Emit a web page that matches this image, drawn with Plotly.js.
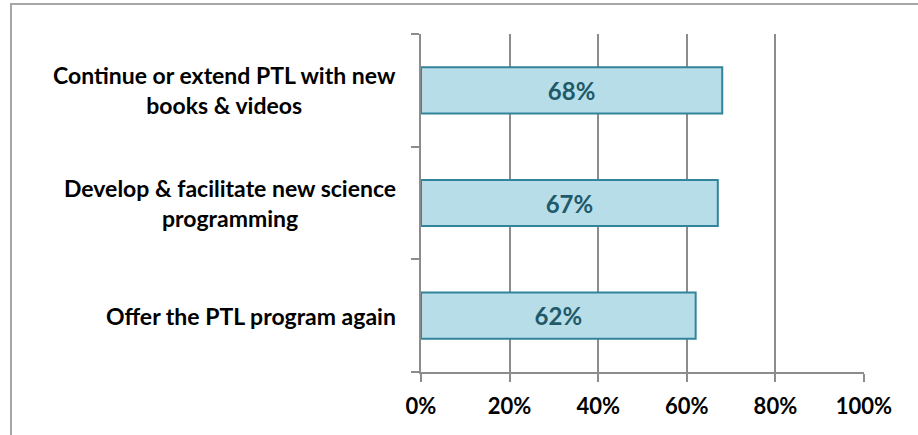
<!DOCTYPE html>
<html>
<head>
<meta charset="utf-8">
<script src="https://cdn.plot.ly/plotly-3.0.1.min.js"></script>
<style>
  html, body { margin: 0; padding: 0; background: #ffffff; }
  #wrap { position: relative; width: 918px; height: 435px; overflow: hidden; }
  #chart { position: absolute; left: 0; top: 0; width: 918px; height: 435px; }
  #frame { position: absolute; left: 10px; top: 3px; width: 1000px; height: 1000px;
           border-left: 2px solid #a6a6a6; border-top: 2px solid #a6a6a6; pointer-events: none; }
</style>
</head>
<body>
<div id="wrap">
  <div id="chart"></div>
  <div id="frame"></div>
</div>
<script>
const categories = [
  "Continue or extend PTL with new<br>books & videos",
  "Develop & facilitate new science<br>programming",
  "Offer the PTL program again"
];
const values = [68, 67, 62];
const xTickValues = [0, 20, 40, 60, 80, 100];
const xTickLabels = ["0%", "20%", "40%", "60%", "80%", "100%"];

const FONT = "Lato, 'Open Sans', 'Liberation Sans', sans-serif";
const gray = "#8c8c8c";

const trace = {
  type: "bar",
  orientation: "h",
  y: categories.map((c, i) => i),
  x: values,
  text: values.map(v => v + "%"),
  textposition: "inside",
  insidetextanchor: "middle",
  textangle: 0,
  textfont: { family: FONT, size: 24, color: "#215968", weight: "bold" },
  marker: { color: "#b7dee8", line: { color: "#31849b", width: 2 } },
  hoverinfo: "skip",
  cliponaxis: false
};

const annotations = categories.map((c, i) => ({
  xref: "paper", yref: "y",
  x: -0.053, y: i,
  xanchor: "right", yanchor: "middle",
  align: "center",
  text: c,
  showarrow: false,
  font: { family: FONT, size: 23, color: "#000000", weight: "bold" }
}));

const layout = {
  width: 918, height: 435,
  margin: { l: 421, r: 54, t: 34, b: 63, pad: 0 },
  paper_bgcolor: "#ffffff",
  plot_bgcolor: "#ffffff",
  showlegend: false,
  bargap: 0.59,
  font: { family: FONT, size: 22, color: "#000000" },
  xaxis: {
    range: [0, 100],
    tickmode: "array",
    tickvals: xTickValues,
    ticktext: xTickLabels,
    showgrid: true,
    gridcolor: gray,
    gridwidth: 2,
    zeroline: false,
    showline: true,
    linecolor: gray,
    linewidth: 2,
    ticks: "outside",
    ticklen: 8,
    tickwidth: 2,
    tickcolor: gray,
    ticklabelstandoff: 6,
    tickfont: { family: FONT, size: 22, color: "#000000", weight: "bold" },
    fixedrange: true
  },
  yaxis: {
    type: "linear",
    range: [2.5, -0.5],
    tickmode: "array",
    tickvals: [-0.5, 0.5, 1.5, 2.5],
    showticklabels: false,
    showgrid: false,
    zeroline: false,
    showline: true,
    linecolor: gray,
    linewidth: 2,
    ticks: "outside",
    ticklen: 8,
    tickwidth: 2,
    tickcolor: gray,
    fixedrange: true
  },
  annotations: annotations
};

Plotly.newPlot("chart", [trace], layout, { displayModeBar: false, staticPlot: true });
</script>
</body>
</html>
